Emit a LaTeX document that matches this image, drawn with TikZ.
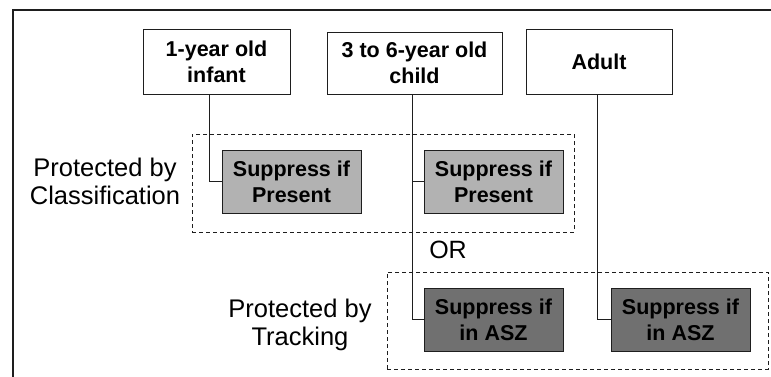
\documentclass[tikz,border=0pt]{standalone}
\usepackage{fontspec}
\setmainfont{Liberation Sans}
\definecolor{lightbox}{RGB}{178,178,178}
\definecolor{darkbox}{RGB}{112,112,112}
\definecolor{inkline}{RGB}{30,30,30}
\begin{document}
\begin{tikzpicture}[x=1pt,y=-1pt,
  agebox/.style={draw=inkline,line width=1pt,fill=white,inner sep=0pt,align=center,
    font=\fontsize{21.5}{26}\selectfont\bfseries},
  litebox/.style={agebox,fill=lightbox,minimum width=139pt,minimum height=63pt},
  darkgbox/.style={agebox,fill=darkbox,minimum width=139pt,minimum height=63pt},
  groupbox/.style={draw=inkline,line width=1pt,dash pattern=on 4pt off 3pt,inner sep=0pt},
  grouplabel/.style={align=center,inner sep=0pt,font=\fontsize{25.5}{28}\selectfont},
  wire/.style={draw=inkline,line width=1pt}]
\useasboundingbox (0,0) rectangle (771,376);
\fill[white] (0,0) rectangle (771,376);
\draw[inkline,line width=1.5pt] (13,378) -- (13,10) -- (773,10);
% group boxes
\node[groupbox,minimum width=382pt,minimum height=98pt] (cls) at (383,183) {};
\node[groupbox,minimum width=381pt,minimum height=97pt] (trk) at (577.5,320.5) {};
% labels
\node[grouplabel] (clslabel) at (105,181) {Protected by\\Classification};
\node[grouplabel] (trklabel) at (300,325) {Protected by\\Tracking};
\node[inner sep=0pt,font=\fontsize{25}{28}\selectfont] (or) at (448,250) {OR};
% age boxes
\node[agebox,minimum width=147pt,minimum height=65pt] (infant) at (216.5,61.5) {1-year old\\infant};
\node[agebox,minimum width=175pt,minimum height=62pt] (child) at (414.5,63) {3 to 6-year old\\child};
\node[agebox,minimum width=146pt,minimum height=65pt] (adult) at (599,61.5) {Adult};
% suppress boxes
\node[litebox] (g1) at (291.5,181.5) {Suppress if\\Present};
\node[litebox] (g2) at (493.5,181.5) {Suppress if\\Present};
\node[darkgbox] (d1) at (493.5,319.5) {Suppress if\\in ASZ};
\node[darkgbox] (d2) at (680.5,319.5) {Suppress if\\in ASZ};
% wires
\coordinate (infantfoot) at ([xshift=-7.5pt]infant.south);
\coordinate (childfoot) at ([xshift=-2.5pt]child.south);
\coordinate (adultfoot) at ([xshift=-2pt]adult.south);
\draw[wire] (infantfoot) |- (g1.west);
\draw[wire] (childfoot) |- (d1.west);
\draw[wire] (g2.west -| childfoot) -- (g2.west);
\draw[wire] (adultfoot) |- (d2.west);
\end{tikzpicture}
\end{document}
